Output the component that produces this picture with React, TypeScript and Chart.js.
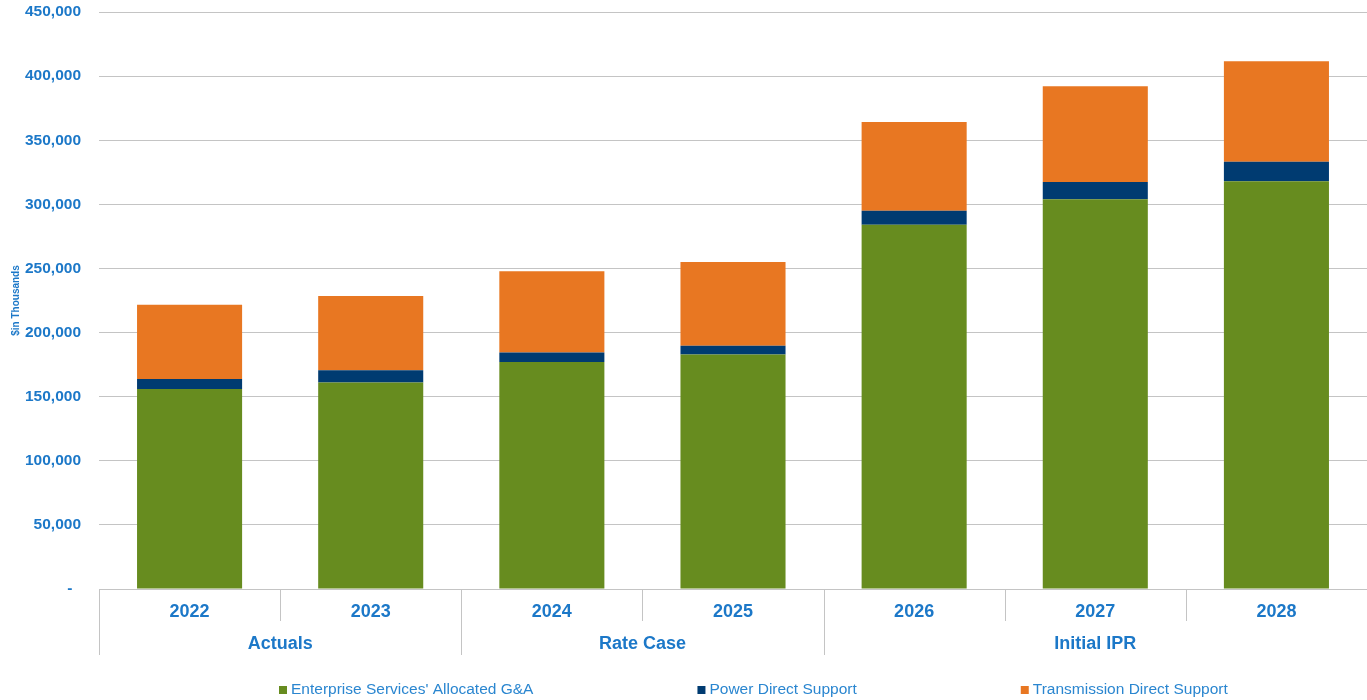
import React, { useEffect, useRef } from "react";
import { Chart, registerables } from "chart.js";

Chart.register(...registerables);

const categories = ["2022", "2023", "2024", "2025", "2026", "2027", "2028"];
const groupLabels = ["Actuals", "Rate Case", "Initial IPR"];
const groupSpans = [2, 2, 3];

const enterpriseGA = [156000, 161100, 177000, 182800, 284000, 303900, 318000];
const powerDirect = [7700, 9500, 7500, 6900, 11050, 13600, 15250];
const transmissionDirect = [57900, 58000, 63400, 65400, 69100, 74500, 78350];

const yTicks = [0, 50000, 100000, 150000, 200000, 250000, 300000, 350000, 400000, 450000];

const AXIS_BLUE = "#1c78c8";
const LEGEND_BLUE = "#2a86d0";
const LINE_GRAY = "#c4c4c4";
const FONT = "'Liberation Sans', Arial, sans-serif";

const groupPlugin = {
  id: "groupAxis",
  afterDraw(chart: any) {
    const { ctx, chartArea, scales } = chart;
    const x = scales.x;
    const half = (x.getPixelForValue(1) - x.getPixelForValue(0)) / 2;
    const bottom = chartArea.bottom;
    ctx.save();
    ctx.strokeStyle = LINE_GRAY;
    ctx.lineWidth = 1;
    const starts = new Set<number>();
    let acc = 0;
    groupSpans.forEach((s) => {
      starts.add(acc);
      acc += s;
    });
    for (let i = 0; i < categories.length; i++) {
      const bx = Math.round(x.getPixelForValue(i) - half) + 0.5;
      const len = starts.has(i) ? 66 : 32;
      ctx.beginPath();
      ctx.moveTo(bx, bottom);
      ctx.lineTo(bx, bottom + len);
      ctx.stroke();
    }
    // group labels
    ctx.fillStyle = AXIS_BLUE;
    ctx.font = `bold 18px ${FONT}`;
    ctx.textAlign = "center";
    ctx.textBaseline = "middle";
    acc = 0;
    groupSpans.forEach((s, gi) => {
      const l = x.getPixelForValue(acc) - half;
      const r = x.getPixelForValue(acc + s - 1) + half;
      ctx.fillText(groupLabels[gi], (l + r) / 2, bottom + 55);
      acc += s;
    });
    // legend
    ctx.font = `15.5px ${FONT}`;
    ctx.textAlign = "left";
    let lx = 279;
    const ly = chart.height - 10;
    chart.data.datasets.forEach((ds: any) => {
      ctx.fillStyle = ds.backgroundColor;
      ctx.fillRect(lx, ly - 4, 8, 8);
      ctx.fillStyle = LEGEND_BLUE;
      ctx.fillText(ds.label, lx + 12, ly);
      lx += 12 + ctx.measureText(ds.label).width + 164;
    });
    ctx.restore();
  },
};

export default function App() {
  const ref = useRef<HTMLCanvasElement>(null);
  useEffect(() => {
    if (!ref.current) return;
    const chart = new Chart(ref.current, {
      type: "bar",
      data: {
        labels: categories,
        datasets: [
          { label: "Enterprise Services' Allocated G&A", data: enterpriseGA, backgroundColor: "#678c1f" },
          { label: "Power Direct Support", data: powerDirect, backgroundColor: "#003b71" },
          { label: "Transmission Direct Support", data: transmissionDirect, backgroundColor: "#e87722" },
        ],
      },
      options: {
        responsive: false,
        animation: false,
        layout: { padding: { top: 12, left: 0, right: 0, bottom: 0 } },
        datasets: { bar: { categoryPercentage: 1, barPercentage: 0.58 } } as any,
        plugins: { legend: { display: false }, tooltip: { enabled: false } },
        scales: {
          x: {
            stacked: true,
            grid: { display: false },
            border: { display: false },
            ticks: {
              color: AXIS_BLUE,
              font: { family: FONT, size: 18, weight: "bold" },
              padding: 4,
              maxRotation: 0,
            },
            afterFit: (s: any) => {
              s.height = 111;
              s.paddingLeft = 0;
              s.paddingRight = 0;
            },
          },
          y: {
            stacked: true,
            min: 0,
            max: 450000,
            afterBuildTicks: (s: any) => {
              s.ticks = yTicks.map((v) => ({ value: v }));
            },
            grid: { color: LINE_GRAY, lineWidth: 1, drawTicks: false },
            border: { display: false },
            ticks: {
              color: AXIS_BLUE,
              font: { family: FONT, size: 15.5, weight: "bold" },
              padding: 18,
              callback: (v: any) => (Number(v) === 0 ? "-  " : Number(v).toLocaleString("en-US")),
            },
            title: {
              display: true,
              text: "$in Thousands",
              color: AXIS_BLUE,
              font: { family: FONT, size: 10, weight: "bold" },
              padding: { top: 10, bottom: 0 },
            },
            afterFit: (s: any) => {
              s.width = 99;
              s.paddingTop = 0;
              s.paddingBottom = 0;
            },
          },
        },
      },
      plugins: [groupPlugin],
    });
    return () => chart.destroy();
  }, []);
  return (
    <div style={{ position: "absolute", left: 0, top: 0, width: 1367, height: 700, background: "#fff" }}>
      <canvas ref={ref} width={1367} height={700} style={{ display: "block" }} />
    </div>
  );
}
